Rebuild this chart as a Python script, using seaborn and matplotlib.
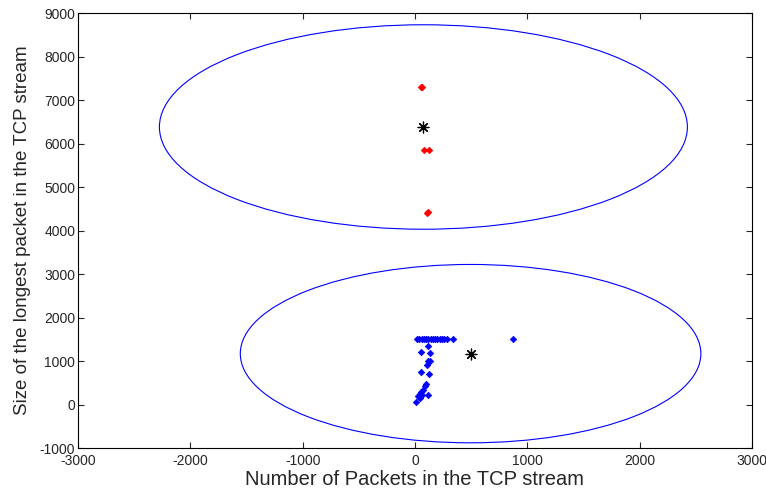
import matplotlib
matplotlib.use("Agg")
import matplotlib.pyplot as plt
from matplotlib.patches import Ellipse
import seaborn as sns
import pandas as pd

# Cluster 1 (red) points
red_x = [53, 60, 80, 125, 107, 115]
red_y = [7310, 7300, 5860, 5860, 4410, 4420]

# Cluster 2 (blue) points
blue_x = [18, 40, 60, 80, 100, 120, 140, 160, 180, 200, 220, 240, 260, 285, 336, 872,
          119, 53, 134, 134, 104, 112, 51, 128, 89, 95, 68, 119, 38, 45, 55, 30, 42, 60, 5]
blue_y = [1500, 1500, 1500, 1500, 1500, 1500, 1500, 1500, 1500, 1500, 1500, 1500, 1500, 1500, 1500, 1500,
          1340, 1200, 1180, 996, 920, 1000, 743, 712, 437, 480, 345, 230, 177, 250, 280, 200, 150, 220, 60]

# Cluster centroids
center_x = [75, 495]
center_y = [6380, 1170]
# Cluster radii (data units)
radius = [2350, 2050]
circle_colors = ["blue", "blue"]

x_ticks = [-3000, -2000, -1000, 0, 1000, 2000, 3000]
y_ticks = [-1000, 0, 1000, 2000, 3000, 4000, 5000, 6000, 7000, 8000, 9000]

sns.set_style("white")
plt.rcParams['font.family'] = ['Liberation Sans', 'DejaVu Sans']
plt.rcParams['axes.unicode_minus'] = False

fig = plt.figure(figsize=(7.66, 4.95), dpi=100)
ax = fig.add_axes([0.1018, 0.0949, 0.8799, 0.8788])

red_df = pd.DataFrame({"x": red_x, "y": red_y})
blue_df = pd.DataFrame({"x": blue_x, "y": blue_y})
cen_df = pd.DataFrame({"x": center_x, "y": center_y})

sns.scatterplot(data=red_df, x="x", y="y", ax=ax, color="red", marker="D", s=11,
                edgecolor="red", linewidth=0.5, zorder=3)
sns.scatterplot(data=blue_df, x="x", y="y", ax=ax, color="blue", marker="D", s=11,
                edgecolor="blue", linewidth=0.5, zorder=3)
sns.scatterplot(data=cen_df, x="x", y="y", ax=ax, color="black", marker=(8, 2, 0), s=60,
                edgecolor="black", linewidth=0.9, zorder=4)

for cx, cy, r, c in zip(center_x, center_y, radius, circle_colors):
    ax.add_patch(Ellipse((cx, cy), 2 * r, 2 * r, fill=False, edgecolor=c, linewidth=0.8, zorder=2))

ax.set_xlim(-3000, 3000)
ax.set_ylim(-1000, 9000)
ax.set_xticks(x_ticks)
ax.set_yticks(y_ticks)
ax.tick_params(direction="in", length=4, width=0.8, labelsize=10, top=True, right=True,
               bottom=True, left=True, labeltop=False, labelright=False, pad=2)
ax.tick_params(axis="x", pad=4)
for s in ax.spines.values():
    s.set_color("black")
    s.set_linewidth(0.8)
ax.set_xlabel("Number of Packets in the TCP stream", fontsize=14.5, labelpad=2)
ax.set_ylabel("Size of the longest packet in the TCP stream", fontsize=13.5, labelpad=6)

fig.savefig("out.png", dpi=100)
